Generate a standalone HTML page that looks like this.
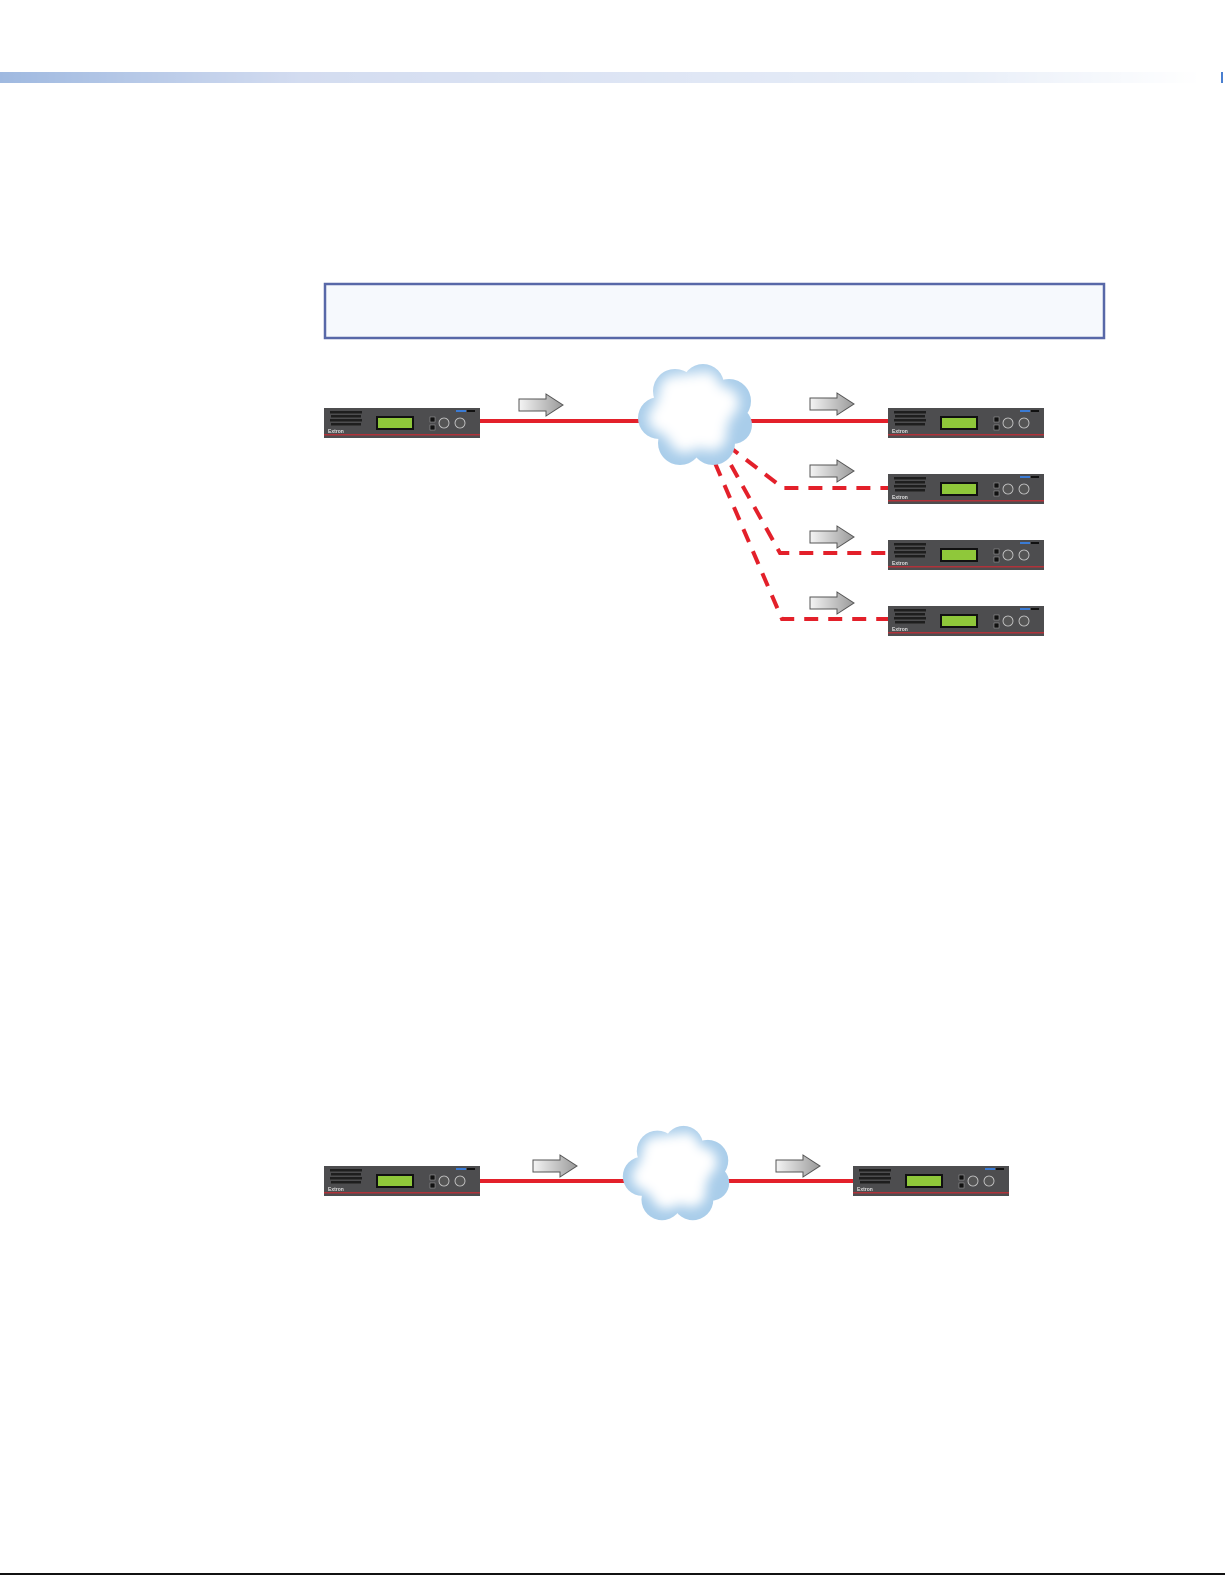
<!DOCTYPE html>
<html><head><meta charset="utf-8"><style>
html,body{margin:0;padding:0;background:#fff;width:1225px;height:1585px;overflow:hidden}
</style></head><body>
<svg width="1225" height="1585" viewBox="0 0 1225 1585" xmlns="http://www.w3.org/2000/svg">
<defs>
<linearGradient id="hb" x1="0" x2="1" y1="0" y2="0">
<stop offset="0" stop-color="#9fb9e0"/><stop offset="0.25" stop-color="#d3dcf0"/><stop offset="0.8" stop-color="#e8eef8"/><stop offset="1" stop-color="#ffffff"/></linearGradient>
<linearGradient id="ag" x1="0" x2="1" y1="0" y2="0"><stop offset="0" stop-color="#f4f4f4"/><stop offset="1" stop-color="#9a9a9a"/></linearGradient>
<filter id="bl" x="-20%" y="-20%" width="140%" height="140%"><feGaussianBlur stdDeviation="6"/></filter>
<symbol id="dev" viewBox="0 0 156 30">
<rect x="0" y="0" width="156" height="30" fill="#4d4d4f"/>
<rect x="0" y="26" width="156" height="1.5" fill="#b0323a"/>
<g fill="#1e1e1e">
<rect x="6" y="3" width="32" height="2.5"/><rect x="7" y="7" width="30" height="2.5"/><rect x="6" y="11" width="32" height="2.5"/><rect x="7" y="15" width="30" height="2.5"/></g>
<text x="4" y="25" font-family="Liberation Sans, sans-serif" font-size="5" fill="#ddd" font-weight="bold">Extron</text>
<rect x="52" y="8" width="38" height="14" fill="#111"/>
<rect x="54" y="10" width="34" height="10" fill="#8fc83a"/>
<rect x="106" y="9" width="5" height="5" fill="#111" stroke="#aaa" stroke-width="0.5"/>
<rect x="106" y="17" width="5" height="5" fill="#111" stroke="#aaa" stroke-width="0.5"/>
<circle cx="120" cy="15" r="5" fill="#555" stroke="#ccc" stroke-width="0.8"/>
<circle cx="136" cy="15" r="5" fill="#555" stroke="#ccc" stroke-width="0.8"/>
<rect x="132" y="2" width="10" height="2" fill="#3a7bd5"/><rect x="143" y="2" width="8" height="2" fill="#111"/>
</symbol>
<symbol id="arr" viewBox="0 0 46 24">
<path d="M1 6 H28 V1 L45 12 L28 23 V18 H1 Z" fill="url(#ag)" stroke="#555" stroke-width="1"/>
</symbol>
<symbol id="cloud" viewBox="0 0 120 105">
<g fill="#a9cdea">
<circle cx="60" cy="52" r="42"/><circle cx="40" cy="28" r="22"/><circle cx="68" cy="22" r="21"/><circle cx="94" cy="38" r="22"/>
<circle cx="24" cy="55" r="21"/><circle cx="45" cy="80" r="22"/><circle cx="78" cy="80" r="22"/><circle cx="98" cy="62" r="19"/>
</g>
<g fill="#ffffff" filter="url(#bl)">
<circle cx="58" cy="48" r="38"/><circle cx="40" cy="28" r="16"/><circle cx="70" cy="22" r="14"/><circle cx="88" cy="40" r="16"/>
<circle cx="28" cy="55" r="15"/><circle cx="50" cy="74" r="16"/><circle cx="76" cy="72" r="16"/>
</g>
</symbol>
</defs>
<rect x="0" y="72" width="1200" height="11" fill="url(#hb)"/>
<rect x="1221" y="72" width="2" height="11" fill="#4a7fd0"/>
<rect x="325" y="284" width="779" height="54" fill="#f6f9fd" stroke="#5868a8" stroke-width="2.5"/>

<g stroke="#e3202a" stroke-width="4" fill="none">
<line x1="480" y1="421" x2="890" y2="421"/>
<g stroke-dasharray="14,10">
<polyline points="727,445 783,488 888,488"/>
<polyline points="731,465 780,553 888,553"/>
<polyline points="715,463 782,619 888,619"/>
</g></g>
<use href="#cloud" x="635" y="363" width="120" height="105"/>
<use href="#dev" x="324" y="408" width="156" height="30"/>
<use href="#dev" x="888" y="408" width="156" height="30"/>
<use href="#dev" x="888" y="474" width="156" height="30"/>
<use href="#dev" x="888" y="540" width="156" height="30"/>
<use href="#dev" x="888" y="606" width="156" height="30"/>
<use href="#arr" x="518" y="393" width="46" height="24"/>
<use href="#arr" x="809" y="392" width="46" height="24"/>
<use href="#arr" x="809" y="459" width="46" height="24"/>
<use href="#arr" x="809" y="525" width="46" height="24"/>
<use href="#arr" x="809" y="591" width="46" height="24"/>

<line x1="480" y1="1181" x2="855" y2="1181" stroke="#e3202a" stroke-width="4"/>
<use href="#cloud" x="620" y="1125" width="112" height="98"/>
<use href="#dev" x="324" y="1166" width="156" height="30"/>
<use href="#dev" x="853" y="1166" width="156" height="30"/>
<use href="#arr" x="532" y="1154" width="46" height="24"/>
<use href="#arr" x="775" y="1154" width="46" height="24"/>

<rect x="0" y="1573" width="1225" height="2" fill="#111"/>
</svg>
</body></html>
